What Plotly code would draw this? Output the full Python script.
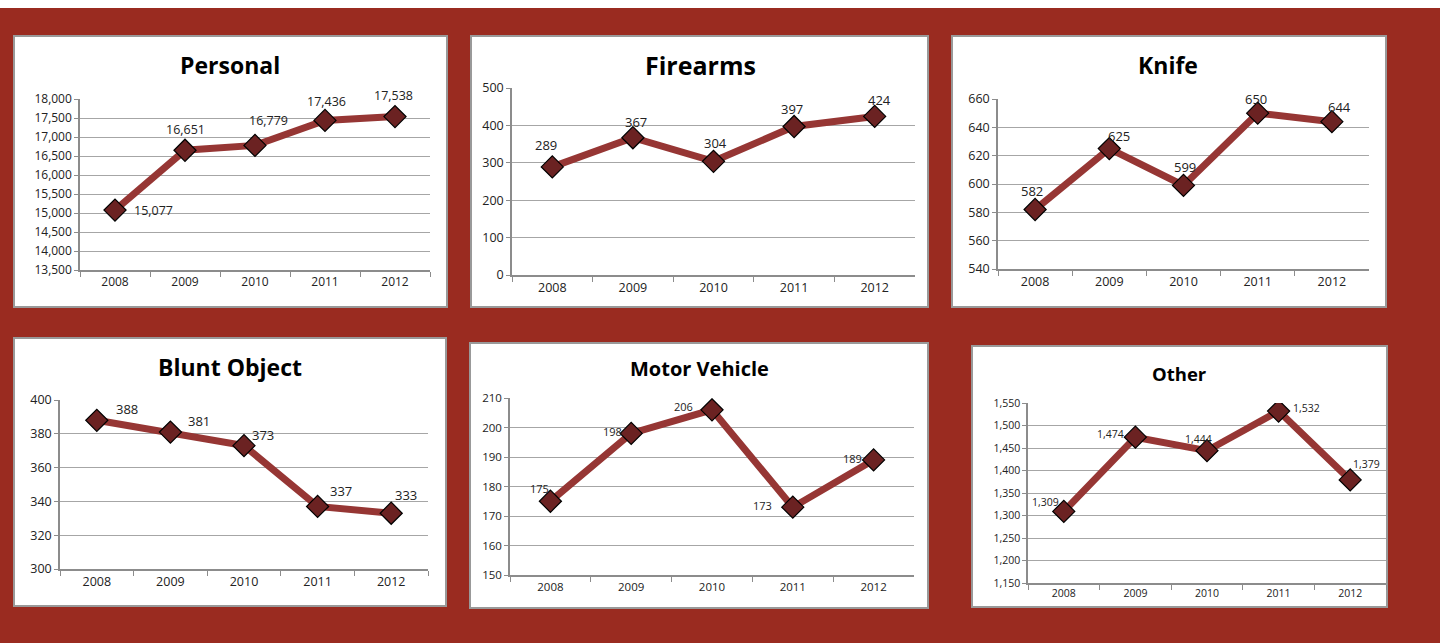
import plotly.graph_objects as go

W, H = 1440, 643

years = ["2008", "2009", "2010", "2011", "2012"]

titles = ["Personal", "Firearms", "Knife", "Blunt Object", "Motor Vehicle", "Other"]
personal = [15077, 16651, 16779, 17436, 17538]
firearms = [289, 367, 304, 397, 424]
knife = [582, 625, 599, 650, 644]
blunt = [388, 381, 373, 337, 333]
motor = [175, 198, 206, 173, 189]
other = [1309, 1474, 1444, 1532, 1379]

y_min = [13500, 0, 540, 300, 150, 1150]
y_max = [18000, 500, 660, 400, 210, 1550]
y_step = [500, 100, 20, 20, 10, 50]

series = [personal, firearms, knife, blunt, motor, other]

# layout (pixels): panel box, plot area, title position, fonts
panels = [
    dict(box=(14, 36, 447, 307), plot=(80, 99, 430, 270), title=(230, 65), tsize=23, fsize=12, lsize=12.5),
    dict(box=(471, 36, 928, 307), plot=(512, 88, 915, 275), title=(700, 65), tsize=25, fsize=12.5, lsize=13),
    dict(box=(952, 36, 1386, 307), plot=(998, 99, 1369, 269), title=(1168, 65), tsize=23, fsize=12.5, lsize=13),
    dict(box=(14, 338, 446, 606), plot=(60, 400, 428, 569), title=(230, 367), tsize=23, fsize=12.5, lsize=13),
    dict(box=(470, 343, 928, 608), plot=(510, 398, 914, 575), title=(699, 368), tsize=20, fsize=11.5, lsize=11),
    dict(box=(972, 346, 1387, 607), plot=(1028, 403, 1386, 583), title=(1179, 373), tsize=18.5, fsize=10.5, lsize=10.5),
]

label_shift = [
    [(38, 0), (0, 21), (13, 25), (1, 19), (-2, 21)],
    [(-6, 22), (3, 16), (2, 18), (-2, 18), (5, 16)],
    [(-3, 19), (10, 13), (1, 18), (-2, 14), (8, 15)],
    [(30, 11), (29, 11), (19, 11), (23, 15), (15, 18)],
    [(-11, 13), (-19, 2), (-29, 3), (-30, 2), (-21, 1)],
    [(-18, 9), (-25, 3), (-9, 12), (28, 3), (16, 16)],
]

BG = "#9A2B20"
LINE = "#963634"
MARK = "#6B2222"
GRID = "#A6A6A6"
AXIS = "#8C8C8C"
FONT = "Open Sans"

fig = go.Figure()
shapes = [dict(type="rect", xref="paper", yref="paper", x0=0, x1=1, y0=1 - 8 / H, y1=1,
               fillcolor="white", line=dict(width=0), layer="below")]
annotations = []

for i, (vals, p) in enumerate(zip(series, panels)):
    n = "" if i == 0 else str(i + 1)
    bx0, by0, bx1, by1 = p["box"]
    shapes.append(dict(type="rect", xref="paper", yref="paper",
                       x0=bx0 / W, x1=bx1 / W, y0=1 - by1 / H, y1=1 - by0 / H,
                       fillcolor="white", line=dict(color="#999999", width=2), layer="below"))
    px0, py0, px1, py1 = p["plot"]
    xd = [px0 / W, px1 / W]
    yd = [1 - py1 / H, 1 - py0 / H]
    fig.add_trace(go.Scatter(
        x=years, y=vals, mode="lines+markers", xaxis="x" + n, yaxis="y" + n,
        line=dict(color=LINE, width=7),
        marker=dict(symbol="diamond", size=17, color=MARK, line=dict(color="black", width=1.2)),
        showlegend=False, hoverinfo="x+y"))
    tickvals = list(range(y_min[i], y_max[i] + 1, y_step[i]))
    fig.layout["xaxis" + n] = dict(
        domain=xd, anchor="y" + n, type="category", range=[-0.5, 4.5],
        showgrid=False, showline=True, linecolor=AXIS, linewidth=1.5,
        ticks="outside", tickson="boundaries", ticklen=5, tickcolor=AXIS,
        tickfont=dict(family=FONT, size=p["fsize"], color="#222"), zeroline=False,
        fixedrange=True, automargin=False)
    fig.layout["yaxis" + n] = dict(
        domain=yd, anchor="x" + n, range=[y_min[i], y_max[i]], tickvals=tickvals,
        tickformat=",d", showgrid=True, gridcolor=GRID, gridwidth=1.2,
        showline=True, linecolor=AXIS, linewidth=1.5, ticks="outside", ticklen=4,
        tickcolor=AXIS, zeroline=False,
        tickfont=dict(family=FONT, size=p["fsize"], color="#222"),
        fixedrange=True, automargin=False)
    annotations.append(dict(xref="paper", yref="paper", x=p["title"][0] / W, y=1 - p["title"][1] / H,
                            text="<b>" + titles[i] + "</b>", showarrow=False,
                            font=dict(family=FONT, size=p["tsize"], color="black"),
                            xanchor="center", yanchor="middle"))
    for j, v in enumerate(vals):
        dx, dy = label_shift[i][j]
        annotations.append(dict(xref="x" + n, yref="y" + n, x=j, y=v, text=f"{v:,}",
                                showarrow=False, xshift=dx, yshift=dy,
                                font=dict(family=FONT, size=p["lsize"], color="#222")))

fig.update_layout(
    width=W, height=H, margin=dict(l=0, r=0, t=0, b=0, pad=0, autoexpand=False),
    paper_bgcolor=BG, plot_bgcolor="rgba(0,0,0,0)",
    shapes=shapes, annotations=annotations,
)

fig.write_html("out.html", config={"displayModeBar": False},
               post_script=("document.documentElement.style.margin='0';"
                            "document.documentElement.style.overflow='hidden';"
                            "document.documentElement.style.background='" + BG + "';"
                            "document.body.style.margin='0';"
                            "document.body.style.overflow='hidden';"
                            "document.body.style.background='" + BG + "';"
                            "window.scrollTo(0,0);"))
